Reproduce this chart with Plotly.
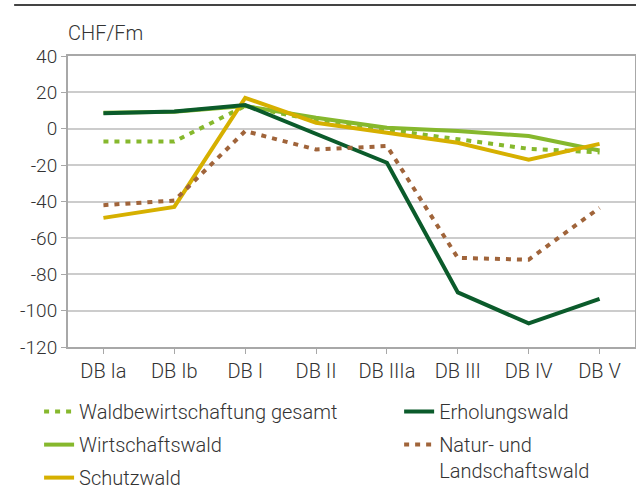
import plotly.graph_objects as go

categories = ["DB Ia", "DB Ib", "DB I", "DB II", "DB IIIa", "DB III", "DB IV", "DB V"]
waldbewirtschaftung = [-7, -7, 12.5, 4.5, -0.5, -5.5, -11, -13]
wirtschaftswald = [8.8, 9.3, 12.5, 6, 0.5, -1.3, -4, -12]
schutzwald = [-49, -43, 17, 3.3, -2.2, -7.7, -17, -8.3]
erholungswald = [8.5, 9.5, 13, -3, -18.7, -90, -107, -93.5]
natur_landschaft = [-42, -39.5, -1.3, -11.4, -9.5, -71, -72, -43.5]
y_ticks = [40, 20, 0, -20, -40, -60, -80, -100, -120]
y_ticktext = ["40", "20", "0", "-20", "-40", "-60", "-80", "-100", "-120"]

C_LIGHT = "#86b82d"
C_DARK = "#0b5b2b"
C_GOLD = "#d6b000"
C_BROWN = "#a0643a"
TXT = "#333333"
FONT = "Roboto"

fig = go.Figure()
fig.add_trace(go.Scatter(x=categories, y=waldbewirtschaftung, mode="lines",
                         name="Waldbewirtschaftung gesamt", legend="legend", legendgroup="a",
                         line=dict(color=C_LIGHT, width=4, dash="5px,6px")))
fig.add_trace(go.Scatter(x=categories, y=wirtschaftswald, mode="lines",
                         name="Wirtschaftswald", legend="legend", legendgroup="b",
                         line=dict(color=C_LIGHT, width=4)))
fig.add_trace(go.Scatter(x=categories, y=schutzwald, mode="lines",
                         name="Schutzwald", legend="legend", legendgroup="c",
                         line=dict(color=C_GOLD, width=4)))
fig.add_trace(go.Scatter(x=categories, y=erholungswald, mode="lines",
                         name="Erholungswald", legend="legend2", legendgroup="d",
                         line=dict(color=C_DARK, width=4)))
fig.add_trace(go.Scatter(x=categories, y=natur_landschaft, mode="lines",
                         name="Natur- und<br>Landschaftswald", legend="legend2", legendgroup="e",
                         line=dict(color=C_BROWN, width=4, dash="5px,6px")))

legend_common = dict(orientation="v", yanchor="top", xanchor="left", valign="top",
                     font=dict(family=FONT, size=20, color=TXT, weight=300),
                     bgcolor="rgba(0,0,0,0)", tracegroupgap=4, itemwidth=30,
                     traceorder="grouped")

fig.update_layout(
    width=636, height=493,
    margin=dict(l=68, r=1, t=56, b=146, autoexpand=False),
    plot_bgcolor="white", paper_bgcolor="white",
    font=dict(family=FONT, size=20, color=TXT),
    xaxis=dict(type="category", range=[-0.5, 7.5], showgrid=False,
               showline=True, linecolor="#a8a8a8", linewidth=2, mirror=True,
               ticks="outside", ticklen=5, tickcolor="#a8a8a8", tickwidth=1,
               tickfont=dict(family=FONT, size=20, color=TXT, weight=300), fixedrange=True),
    yaxis=dict(range=[-120, 40], tickvals=y_ticks, ticktext=y_ticktext,
               showgrid=True, gridcolor="#cccccc", gridwidth=1.5, zeroline=False,
               showline=True, linecolor="#a8a8a8", linewidth=2, mirror=True,
               ticks="outside", ticklen=5, tickcolor="#a8a8a8",
               tickfont=dict(family=FONT, size=19, color=TXT, weight=300), fixedrange=True),
    legend=dict(x=-0.051, y=-0.155, **legend_common),
    legend2=dict(x=0.584, y=-0.155, **legend_common),
    showlegend=True,
    shapes=[dict(type="line", xref="paper", yref="paper", x0=-0.095, x1=1.002,
                 y0=1.175, y1=1.175, line=dict(color="#444444", width=2))],
    annotations=[dict(text="CHF/Fm", xref="paper", yref="paper", x=-0.004, y=1.08,
                      xanchor="left", yanchor="middle", showarrow=False,
                      font=dict(family=FONT, size=20, color=TXT, weight=300))],
)

fig.write_html("out.html", config={"displayModeBar": False},
               post_script="document.body.style.margin='0';")
